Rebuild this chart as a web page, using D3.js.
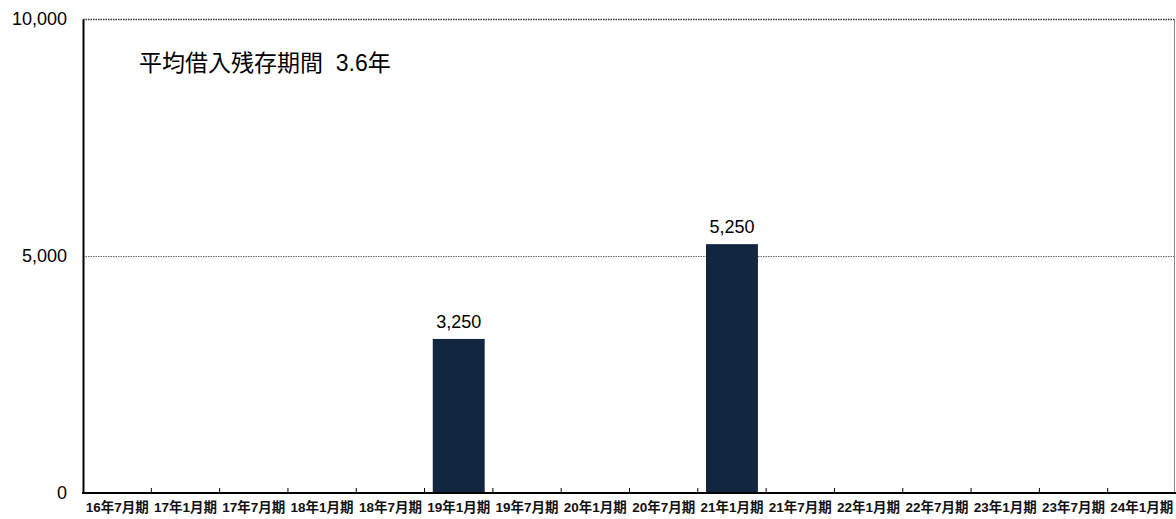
<!DOCTYPE html>
<html>
<head>
<meta charset="utf-8">
<script src="https://cdn.jsdelivr.net/npm/d3@7"></script>
<style>
  body { margin: 0; background: #fff; }
  svg text { font-family: "Liberation Sans", Arial, "Noto Sans CJK JP", sans-serif; }
</style>
</head>
<body>
<div id="chart"></div>
<script>
// periods on the x axis
const periods = ["16年7月期","17年1月期","17年7月期","18年1月期","18年7月期","19年1月期","19年7月期",
  "20年1月期","20年7月期","21年1月期","21年7月期","22年1月期","22年7月期","23年1月期","23年7月期","24年1月期"];
// maturity amounts per period (only two have values)
const amounts = [0,0,0,0,0,3250,0,0,0,5250,0,0,0,0,0,0];
const yTicks = [0, 5000, 10000];
const note = "平均借入残存期間\u00a0\u00a03.6年";

const width = 1176, height = 519;
const margin = {top: 19, right: 0, bottom: 26, left: 83};

const svg = d3.select("#chart").append("svg")
    .attr("width", width)
    .attr("height", height);

const x = d3.scaleBand()
    .domain(periods)
    .range([margin.left, width - margin.right])
    .paddingInner(0.24)
    .paddingOuter(0.12);

const y = d3.scaleLinear()
    .domain([0, 10000])
    .range([height - margin.bottom, margin.top]);

// gridlines
svg.selectAll(".grid")
    .data(yTicks.filter(d => d > 0))
    .enter().append("line")
    .attr("class", "grid")
    .attr("x1", margin.left)
    .attr("x2", width - 1)
    .attr("y1", d => y(d) + 0.5)
    .attr("y2", d => y(d) + 0.5)
    .attr("stroke", d => d === 10000 ? "#333" : "#666")
    .attr("stroke-width", d => d === 10000 ? 1.5 : 1)
    .attr("stroke-dasharray", "1.5,1");

// right border
svg.append("line")
    .attr("x1", width - 1.5).attr("x2", width - 1.5)
    .attr("y1", y(10000)).attr("y2", y(0))
    .attr("stroke", "#888").attr("stroke-width", 1);

// bars
const data = periods.map((p, i) => ({period: p, value: amounts[i]}));
svg.selectAll(".bar")
    .data(data.filter(d => d.value > 0))
    .enter().append("rect")
    .attr("class", "bar")
    .attr("x", d => x(d.period))
    .attr("y", d => y(d.value))
    .attr("width", x.bandwidth())
    .attr("height", d => y(0) - y(d.value))
    .attr("fill", "#13263f");

// value labels
svg.selectAll(".val")
    .data(data.filter(d => d.value > 0))
    .enter().append("text")
    .attr("class", "val")
    .attr("x", d => x(d.period) + x.bandwidth() / 2)
    .attr("y", d => y(d.value) - 11)
    .attr("text-anchor", "middle")
    .style("font-size", "18px")
    .text(d => d3.format(",")(d.value));

// y axis
const yAxis = d3.axisLeft(y).tickValues(yTicks).tickFormat(d3.format(",")).tickSize(0).tickPadding(16);
const gy = svg.append("g")
    .attr("transform", `translate(${margin.left},0)`)
    .call(yAxis);
gy.select(".domain").attr("stroke", "#000").attr("stroke-width", 2);
gy.selectAll("text").style("font-size", "18px").attr("fill", "#000");

// x axis with ticks at band boundaries
svg.append("line")
    .attr("x1", margin.left - 1).attr("x2", width)
    .attr("y1", y(0)).attr("y2", y(0))
    .attr("stroke", "#000").attr("stroke-width", 2);

const step = x.step();
svg.selectAll(".xtick")
    .data(periods.slice(1))
    .enter().append("line")
    .attr("class", "xtick")
    .attr("x1", d => x(d) - step * x.paddingInner() / 2)
    .attr("x2", d => x(d) - step * x.paddingInner() / 2)
    .attr("y1", y(0))
    .attr("y2", y(0) - 5)
    .attr("stroke", "#000").attr("stroke-width", 1);

svg.selectAll(".xlab")
    .data(periods)
    .enter().append("text")
    .attr("class", "xlab")
    .attr("x", d => x(d) + x.bandwidth() / 2)
    .attr("y", y(0) + 19)
    .attr("text-anchor", "middle")
    .style("font-size", "13.5px")
    .style("font-weight", "bold")
    .attr("fill", "#111")
    .text(d => d);

// note text
svg.append("text")
    .attr("x", 139)
    .attr("y", 71)
    .style("font-size", "23px")
    .text(note);
</script>
</body>
</html>
